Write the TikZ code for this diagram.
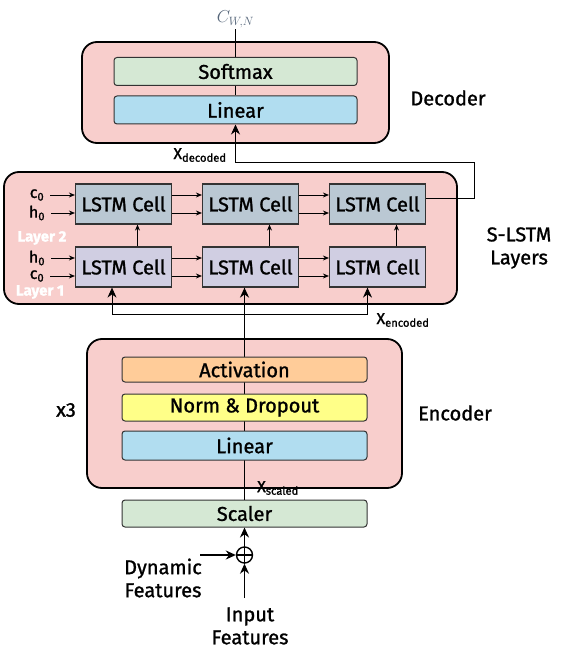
\documentclass[tikz,border=0pt]{standalone}
\usepackage{fontspec}
\setmainfont{Fira Sans}[FakeBold=1.2]
\usetikzlibrary{positioning, arrows.meta, calc}
\definecolor{boxpink}{HTML}{F8CECC}
\definecolor{boxgreen}{HTML}{D5E8D4}
\definecolor{boxblue}{HTML}{B1DDF0}
\definecolor{boxorange}{HTML}{FFCC99}
\definecolor{boxyellow}{HTML}{FFFF88}
\definecolor{celltop}{HTML}{BAC8D3}
\definecolor{cellbot}{HTML}{D0CEE2}
\definecolor{outcol}{HTML}{56667A}
\newcommand{\xsub}[1]{X\textsubscript{#1}}
\tikzset{
  font=\fontsize{20}{24}\selectfont,
  % Arrows
  arr/.style={-{Stealth[length=6pt, width=5pt]}, line width=0.8pt},
  bigarr/.style={-{Stealth[length=10pt, width=9pt]}, line width=1.8pt},
  feedarr/.style={-{Stealth[length=10pt, width=9pt]}, line width=0.9pt},
  % Rounded container
  block/.style={draw, line width=1.8pt, rounded corners=15pt, fill=boxpink},
  % Layer inside a container
  layer/.style={draw=black!80, line width=1pt, rounded corners=3pt, fill=#1,
    minimum width=243pt, minimum height=28pt, inner sep=0pt},
  % LSTM cell
  cell/.style={draw=black!80, line width=1.2pt, fill=#1, minimum width=96pt,
    minimum height=40pt, inner sep=0pt},
  % Small labels
  small/.style={font=\fontsize{16}{18}\selectfont, inner sep=1pt},
  tag/.style={text=white, font=\fontsize{15}{17}\selectfont\bfseries, inner sep=0pt},
  title/.style={align=center, font=\fontsize{20}{23}\selectfont},
}
\begin{document}
\begin{tikzpicture}[x=1pt, y=-1pt]
  \fill[white] (0,0) rectangle (567,655);
  \useasboundingbox (0,0) rectangle (567,655);

  % decoder
  \node[block, minimum width=307pt, minimum height=101pt] (dec) at (235.5,92.5) {};
  \node[layer=boxgreen] (softmax) at (235.5,71.5) {Softmax};
  \node[layer=boxblue] (declin) at (235.5,110) {Linear};
  \coordinate (yout) at (235.5,29);
  \node[above=1pt of yout, text=outcol, font=\fontsize{18}{20}\selectfont, inner sep=0pt] (cwn) {$C_{W,N}$};
  \draw[line width=0.8pt] (softmax.north) -- (yout);
  \draw[line width=0.8pt] (declin.north) -- (softmax.south);
  \node[title] (declab) at (448,98) {Decoder};

  % stacked LSTM
  \node[block, minimum width=453pt, minimum height=132pt] (lstm) at (230.5,238) {};
  \foreach \i/\x in {1/123.5, 2/250.5, 3/377.5} {
    \node[cell=celltop] (top\i) at (\x,204) {LSTM Cell};
    \node[cell=cellbot] (bot\i) at (\x,267) {LSTM Cell};
  }
  \foreach \i/\j in {1/2, 2/3} {
    \draw[arr] ([yshift=9pt]top\i.east) -- ([yshift=9pt]top\j.west);
    \draw[arr] ([yshift=-9pt]top\i.east) -- ([yshift=-9pt]top\j.west);
    \draw[arr] ([yshift=9pt]bot\i.east) -- ([yshift=9pt]bot\j.west);
    \draw[arr] ([yshift=-9pt]bot\i.east) -- ([yshift=-9pt]bot\j.west);
  }
  \foreach \i/\dx in {1/14, 2/19, 3/19}
    \draw[arr] ([xshift=\dx pt]bot\i.north) -- ([xshift=\dx pt]top\i.south);

  % initial states
  \node[small] (ctop) at (37,195) {c\textsubscript{0}};
  \node[small] (htop) at (37,213) {h\textsubscript{0}};
  \node[small] (hbot) at (37,258) {h\textsubscript{0}};
  \node[small] (cbot) at (37,276) {c\textsubscript{0}};
  \draw[arr, shorten <=5pt] (ctop.east) -- (ctop.east -| top1.west);
  \draw[arr, shorten <=5pt] (htop.east) -- (htop.east -| top1.west);
  \draw[arr, shorten <=5pt] (hbot.east) -- (hbot.east -| bot1.west);
  \draw[arr, shorten <=5pt] (cbot.east) -- (cbot.east -| bot1.west);
  \node[tag] (lay2) at (42,238) {Layer 2};
  \node[tag] (lay1) at (40,292) {Layer 1};
  \node[title] (lstmlab) at (519,248) {S-LSTM\\Layers};

  % feedback to decoder
  \coordinate (fb) at (474,162);
  \draw[feedarr] ([yshift=6pt]top3.east) -| (fb) -| (declin.south);
  \node[small] (xdec) at (200,155) {\xsub{decoded}};

  % encoder
  \node[block, minimum width=315pt, minimum height=149pt] (enc) at (244.5,413.5) {};
  \node[layer=boxgreen, minimum width=245pt, minimum height=27pt] (scaler) at (244.5,513.5) {Scaler};
  \draw[line width=0.8pt] (scaler.north) -- (enc.north);
  \node[layer=boxorange, minimum width=245pt, minimum height=25pt] (act) at (244.5,369.5) {Activation};
  \node[layer=boxyellow, minimum width=245pt, minimum height=27pt] (norm) at (244.5,407.5) {Norm \& Dropout};
  \node[layer=boxblue, minimum width=245pt, minimum height=29pt] (enclin) at (244.5,445.5) {Linear};
  \node[title] (enclab) at (455,413) {Encoder};
  \node[title] (rep) at (66,410) {x3};
  \node[small] (xsc) at (278,488) {\xsub{scaled}};

  % encoded input to the first layer
  \draw[bigarr] (enc.north) -- (enc.north |- bot2.south);
  \coordinate (split) at (244.5,314);
  \draw[feedarr] (split) -| ([xshift=-11.5pt]bot1.south);
  \draw[feedarr] (split) -| ([xshift=-10pt]bot3.south);
  \node[small] (xenc) at (403,320) {\xsub{encoded}};

  % inputs
  \node[draw, circle, line width=1.4pt, minimum size=16pt, inner sep=0pt] (plus) at (244.5,555) {};
  \draw[line width=1.4pt] (plus.north) -- (plus.south) (plus.west) -- (plus.east);
  \draw[bigarr] (plus.north) -- (scaler.south);
  \coordinate (dynin) at (200,555);
  \coordinate (inpin) at (244.5,598);
  \draw[bigarr] (dynin) -- (plus.west);
  \draw[bigarr] (inpin) -- (plus.south);
  \node[title] (dyn) at (163,578) {Dynamic\\Features};
  \node[title] (inp) at (250,626) {Input\\Features};
\end{tikzpicture}
\end{document}
